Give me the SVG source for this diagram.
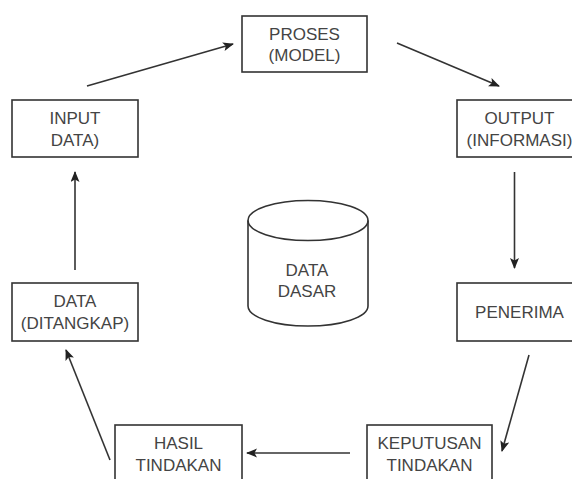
<svg xmlns="http://www.w3.org/2000/svg" width="572" height="479" viewBox="0 0 572 479">
<defs>
<style>
.box{fill:#fff;stroke:#333;stroke-width:1.6}
.t{font-family:"Liberation Sans",Arial,sans-serif;font-size:17px;fill:#444;text-anchor:middle}
.c{stroke:#333;stroke-width:1.6;fill:none}
</style>
<marker id="ah" markerUnits="userSpaceOnUse" markerWidth="12" markerHeight="10" refX="10" refY="4.5" orient="auto">
<path d="M0,0 L11,4.5 L0,9 L2.5,4.5 Z" fill="#222"/>
</marker>
</defs>
<rect width="572" height="479" fill="#fff"/>
<g id="connectors">
<line class="c" x1="87" y1="86" x2="233" y2="44" marker-end="url(#ah)"/>
<line class="c" x1="397" y1="43" x2="499" y2="86" marker-end="url(#ah)"/>
<line class="c" x1="514.5" y1="172" x2="514.5" y2="268" marker-end="url(#ah)"/>
<line class="c" x1="529" y1="355" x2="502" y2="451" marker-end="url(#ah)"/>
<line class="c" x1="350" y1="453" x2="247" y2="453" marker-end="url(#ah)"/>
<line class="c" x1="110" y1="460" x2="66" y2="350" marker-end="url(#ah)"/>
<line class="c" x1="75" y1="270" x2="75" y2="172" marker-end="url(#ah)"/>
</g>
<g id="proses">
<rect class="box" x="242" y="16" width="125" height="56"/>
<text class="t" x="304.5" y="39.5">PROSES</text>
<text class="t" x="304.5" y="61">(MODEL)</text>
</g>
<g id="input">
<rect class="box" x="12" y="100" width="126" height="57"/>
<text class="t" x="75" y="124">INPUT</text>
<text class="t" x="75" y="145.5">DATA)</text>
</g>
<g id="output">
<rect class="box" x="457" y="100" width="125" height="57"/>
<text class="t" x="519.5" y="124">OUTPUT</text>
<text class="t" x="519.5" y="145.5">(INFORMASI)</text>
</g>
<g id="penerima">
<rect class="box" x="457" y="283" width="125" height="58"/>
<text class="t" x="519.5" y="318">PENERIMA</text>
</g>
<g id="data-ditangkap">
<rect class="box" x="12" y="283" width="126" height="58"/>
<text class="t" x="75" y="307">DATA</text>
<text class="t" x="75" y="328.5">(DITANGKAP)</text>
</g>
<g id="keputusan">
<rect class="box" x="367" y="425" width="125" height="57"/>
<text class="t" x="429.5" y="449">KEPUTUSAN</text>
<text class="t" x="429.5" y="470.5">TINDAKAN</text>
</g>
<g id="hasil">
<rect class="box" x="115" y="425" width="127" height="57"/>
<text class="t" x="178.5" y="449">HASIL</text>
<text class="t" x="178.5" y="470.5">TINDAKAN</text>
</g>
<g id="data-dasar">
<path class="box" d="M248,220.5 A60,20 0 0 1 368,220.5 V306 A60,20 0 0 1 248,306 Z"/>
<path class="c" d="M248,220.5 A60,20 0 0 0 368,220.5"/>
<text class="t" x="307" y="276">DATA</text>
<text class="t" x="307" y="297">DASAR</text>
</g>
</svg>
